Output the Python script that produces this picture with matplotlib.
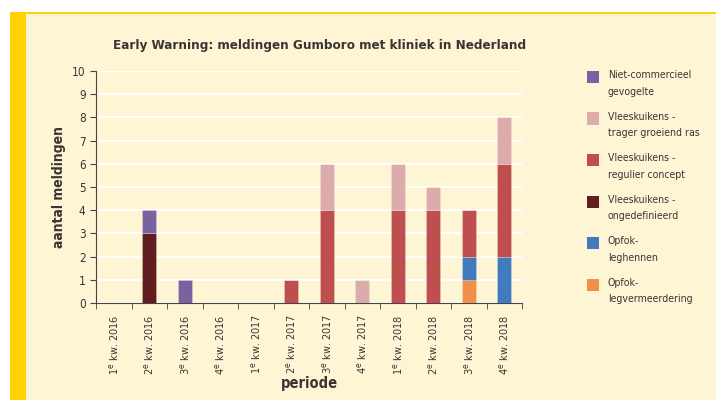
import numpy as np
import matplotlib.pyplot as plt
from matplotlib.patches import Rectangle

# ----------------------------------------------------------------------------------
# Data
# ----------------------------------------------------------------------------------
periods = ["1$^{\\mathrm{e}}$ kw. 2016", "2$^{\\mathrm{e}}$ kw. 2016", "3$^{\\mathrm{e}}$ kw. 2016",
           "4$^{\\mathrm{e}}$ kw. 2016", "1$^{\\mathrm{e}}$ kw. 2017", "2$^{\\mathrm{e}}$ kw. 2017",
           "3$^{\\mathrm{e}}$ kw. 2017", "4$^{\\mathrm{e}}$ kw. 2017", "1$^{\\mathrm{e}}$ kw. 2018",
           "2$^{\\mathrm{e}}$ kw. 2018", "3$^{\\mathrm{e}}$ kw. 2018", "4$^{\\mathrm{e}}$ kw. 2018"]

# stacked bottom to top
opfok_legverm = [0, 0, 0, 0, 0, 0, 0, 0, 0, 0, 1, 0]
opfok_leghen = [0, 0, 0, 0, 0, 0, 0, 0, 0, 0, 1, 2]
vk_ongedef = [0, 3, 0, 0, 0, 0, 0, 0, 0, 0, 0, 0]
vk_regulier = [0, 0, 0, 0, 0, 1, 4, 0, 4, 4, 2, 4]
vk_trager = [0, 0, 0, 0, 0, 0, 2, 1, 2, 1, 0, 2]
niet_comm = [0, 1, 1, 0, 0, 0, 0, 0, 0, 0, 0, 0]

series = [
    ("Opfok-\nlegvermeerdering", opfok_legverm, "#F0904A"),
    ("Opfok-\nleghennen", opfok_leghen, "#3F7BBD"),
    ("Vleeskuikens -\nongedefinieerd", vk_ongedef, "#611D1F"),
    ("Vleeskuikens -\nregulier concept", vk_regulier, "#BE4F4E"),
    ("Vleeskuikens -\ntrager groeiend ras", vk_trager, "#DCACAC"),
    ("Niet-commercieel\ngevogelte", niet_comm, "#7A619F"),
]

bg = "#FEF5D4"
txt = "#3a3535"

fig = plt.figure(figsize=(7.16, 4.0), dpi=100, facecolor="white")
# cream panel with gold frame
fig.patches.append(Rectangle((10 / 716, 0), 706 / 716, 388 / 400, transform=fig.transFigure,
                             facecolor=bg, edgecolor="none", zorder=-10))
fig.patches.append(Rectangle((10 / 716, 0), 16 / 716, 388 / 400, transform=fig.transFigure,
                             facecolor="#FFD200", edgecolor="none", zorder=-9))
fig.patches.append(Rectangle((10 / 716, 386 / 400), 706 / 716, 2 / 400, transform=fig.transFigure,
                             facecolor="#FFD200", edgecolor="none", zorder=-9))

ax = fig.add_axes([96 / 716, 1 - 303 / 400, 426 / 716, 232 / 400])
ax.set_facecolor(bg)

x = np.arange(len(periods))
bottom = np.zeros(len(periods))
for label, vals, col in series:
    vals = np.array(vals)
    ax.bar(x, vals, width=0.4, bottom=bottom, color=col, edgecolor="#ffffff40", linewidth=0.6, zorder=3)
    bottom += vals

ax.set_xlim(-0.5, len(periods) - 0.5)
ax.set_ylim(0, 10)
ax.set_yticks(range(0, 11))
ax.yaxis.grid(True, color="white", linewidth=1.3, zorder=0)
ax.set_axisbelow(True)
for s in ["top", "right"]:
    ax.spines[s].set_visible(False)
for s in ["left", "bottom"]:
    ax.spines[s].set_color("#444444")
    ax.spines[s].set_linewidth(0.8)

ax.set_xticks(x)
ax.set_xticklabels(periods, rotation=90, fontsize=7.8, color=txt, fontstretch="condensed")
ax.tick_params(axis="x", which="major", length=0, pad=8)
ax.set_xticks(np.arange(-0.5, len(periods)), minor=True)
ax.tick_params(axis="x", which="minor", length=4, color="#444444", direction="out")
ax.tick_params(axis="y", labelsize=8.5, colors=txt, length=4)
ax.tick_params(axis="y", color="#444444")
for t in ax.get_yticklabels():
    t.set_fontstretch("condensed")

ax.set_ylabel("aantal meldingen", fontsize=10, fontweight="bold", color=txt, labelpad=4,
              fontstretch="condensed")
ax.set_xlabel("periode", fontsize=10.5, fontweight="bold", color=txt, labelpad=1,
              fontstretch="condensed")

fig.text(320 / 716, 1 - 46 / 400, "Early Warning: meldingen Gumboro met kliniek in Nederland",
         ha="center", va="center", fontsize=9.6, fontweight="bold", color=txt, fontstretch="condensed")

# legend: swatch aligned with first text line, top to bottom in reverse stack order
for i, (lab, _, col) in enumerate(series[::-1]):
    top = 71 + i * 41.5
    fig.patches.append(Rectangle((587 / 716, 1 - (top + 12) / 400), 12 / 716, 12 / 400,
                                 transform=fig.transFigure, facecolor=col, edgecolor="none"))
    fig.text(608 / 716, 1 - (top - 1) / 400, lab, ha="left", va="top", fontsize=7.6,
             color=txt, linespacing=1.85, fontstretch="condensed")

fig.savefig("out.png", dpi=100, facecolor="white")
